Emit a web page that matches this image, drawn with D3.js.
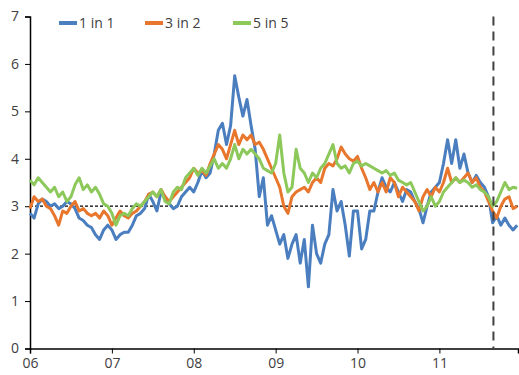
<!DOCTYPE html>
<html><head><meta charset="utf-8">
<script src="https://cdn.jsdelivr.net/npm/d3@7"></script>
<style>body{margin:0;background:#fff}svg{display:block}text{font-family:"Open Sans",sans-serif;fill:#404040}</style>
</head><body><svg id="c" width="519" height="375"></svg>
<script>
const startYear = 2006.0, step = 0.05;
const seriesNames = ["1 in 1", "3 in 2", "5 in 5"];
const seriesColors = ["#4a7ebf", "#e8762c", "#8cc85a"];
const yTicks = [0,1,2,3,4,5,6,7];
const xTickYears = [2006,2007,2008,2009,2010,2011];
const xTickLabels = ["06","07","08","09","10","11"];
const markerYear = 2011.66;
const refLevel = 3;

const blue = [2.85,2.75,3.05,3.15,3.1,3.0,3.05,2.95,3.0,3.1,3.05,2.95,2.75,2.7,2.6,2.55,2.4,2.3,2.5,2.6,
2.5,2.3,2.4,2.45,2.45,2.6,2.8,2.85,2.95,3.25,3.1,2.9,3.3,3.2,3.05,2.95,3.0,3.2,3.3,3.4,
3.3,3.5,3.75,3.6,3.7,4.1,4.6,4.75,4.3,4.7,5.75,5.3,4.9,5.25,4.7,4.2,3.2,3.6,2.6,2.8,
2.5,2.2,2.4,1.9,2.2,2.4,1.8,2.3,1.3,2.6,2.0,1.8,2.2,2.4,3.35,2.9,3.1,2.6,1.95,2.9,
2.9,2.1,2.3,2.9,2.9,3.3,3.6,3.4,3.3,3.5,3.3,3.1,3.35,3.3,3.1,2.95,2.65,3.0,3.3,3.4,
3.5,3.9,4.4,3.9,4.4,3.8,4.1,3.7,3.5,3.65,3.5,3.4,3.2,2.65,2.8,2.6,2.75,2.6,2.5,2.6];
const orange = [2.95,3.2,3.1,3.15,3.0,2.95,2.8,2.6,2.9,2.85,3.0,3.1,2.9,2.95,2.85,2.8,2.85,2.75,2.9,2.8,
2.6,2.75,2.9,2.8,2.75,2.85,2.9,3.0,3.1,3.25,3.3,3.2,3.35,3.2,3.1,3.2,3.3,3.4,3.5,3.6,
3.8,3.7,3.75,3.65,3.9,4.1,4.3,4.2,4.0,4.3,4.6,4.3,4.5,4.4,4.5,4.3,4.35,4.2,4.0,3.8,
3.6,3.4,3.0,2.85,3.2,3.3,3.35,3.4,3.3,3.5,3.6,3.5,3.8,3.9,3.85,4.0,4.25,4.1,4.0,3.95,
4.05,3.8,3.6,3.35,3.5,3.3,3.5,3.3,3.6,3.5,3.2,3.4,3.3,3.2,3.1,2.9,3.2,3.35,3.2,3.4,
3.3,3.5,3.8,3.5,3.6,3.5,3.6,3.7,3.5,3.6,3.4,3.3,3.1,2.9,2.75,3.0,3.15,3.2,2.95,3.0];
const green = [3.55,3.45,3.6,3.5,3.4,3.3,3.4,3.2,3.3,3.1,3.2,3.45,3.6,3.35,3.45,3.3,3.4,3.25,3.05,3.0,
2.85,2.6,2.8,2.85,2.8,2.95,3.05,3.0,3.1,3.2,3.3,3.2,3.35,3.1,3.05,3.3,3.4,3.35,3.6,3.7,
3.8,3.65,3.8,3.7,3.85,4.0,3.8,3.9,3.8,4.0,4.3,4.0,4.2,4.1,4.2,4.1,4.0,3.8,3.75,3.7,
3.9,4.5,3.7,3.3,3.4,4.2,3.8,3.7,3.5,3.7,3.6,3.8,3.9,4.1,4.3,3.9,3.8,3.85,3.7,3.9,
3.95,3.85,3.9,3.85,3.8,3.75,3.7,3.75,3.65,3.7,3.55,3.5,3.45,3.5,3.3,3.1,2.9,3.0,3.2,3.0,
3.1,3.3,3.4,3.5,3.6,3.5,3.55,3.5,3.4,3.45,3.35,3.3,3.2,3.0,3.1,3.3,3.5,3.35,3.4,3.38];
const seriesValues = [blue, orange, green];

const svg = d3.select("#c");
const x = d3.scaleLinear().domain([2006, 2011.96]).range([30, 518]);
const y = d3.scaleLinear().domain([0, 7]).range([348.5, 16.5]);

const yAxis = d3.axisLeft(y).tickValues(yTicks).tickSize(5).tickPadding(6).tickFormat(d3.format("d"));
const gy = svg.append("g").attr("transform","translate(30,0)").call(yAxis);
gy.select(".domain").attr("stroke","#000").attr("stroke-width",1.5);
gy.selectAll(".tick line").attr("stroke","#000");
gy.selectAll("text").style("font-size","14px").attr("fill","#404040");

const xAxis = d3.axisBottom(x).tickValues(xTickYears).tickSize(5).tickPadding(5).tickFormat((d,i)=>xTickLabels[i]);
const gx = svg.append("g").attr("transform","translate(0,348.5)").call(xAxis);
gx.select(".domain").attr("stroke","#000").attr("stroke-width",1.5);
gx.selectAll(".tick line").attr("stroke","#000");
gx.selectAll("text").style("font-size","14px").attr("fill","#404040");

svg.append("line").attr("x1",x(2006)).attr("x2",x(2011.96)).attr("y1",y(refLevel)).attr("y2",y(refLevel))
  .attr("stroke","#000").attr("stroke-width",1.2).attr("stroke-dasharray","3,2");

const line = d3.line().x((d,i)=>x(startYear + i*step)).y(d=>y(d));
seriesValues.forEach((vals,k)=>{
  svg.append("path").datum(vals).attr("d",line).attr("fill","none")
    .attr("stroke",seriesColors[k]).attr("stroke-width",3).attr("stroke-linejoin","round");
});

svg.append("line").attr("x1",x(markerYear)).attr("x2",x(markerYear)).attr("y1",y(7)).attr("y2",y(0))
  .attr("stroke","#404040").attr("stroke-width",2).attr("stroke-dasharray","9,6");

const legX = [59, 145, 233];
seriesNames.forEach((n,k)=>{
  const g = svg.append("g").attr("transform",`translate(${legX[k]},23)`);
  g.append("line").attr("x1",0).attr("x2",18).attr("y1",0).attr("y2",0).attr("stroke",seriesColors[k]).attr("stroke-width",4);
  g.append("text").attr("x",20).attr("y",5).style("font-size","14px").text(n);
});
</script></body></html>
